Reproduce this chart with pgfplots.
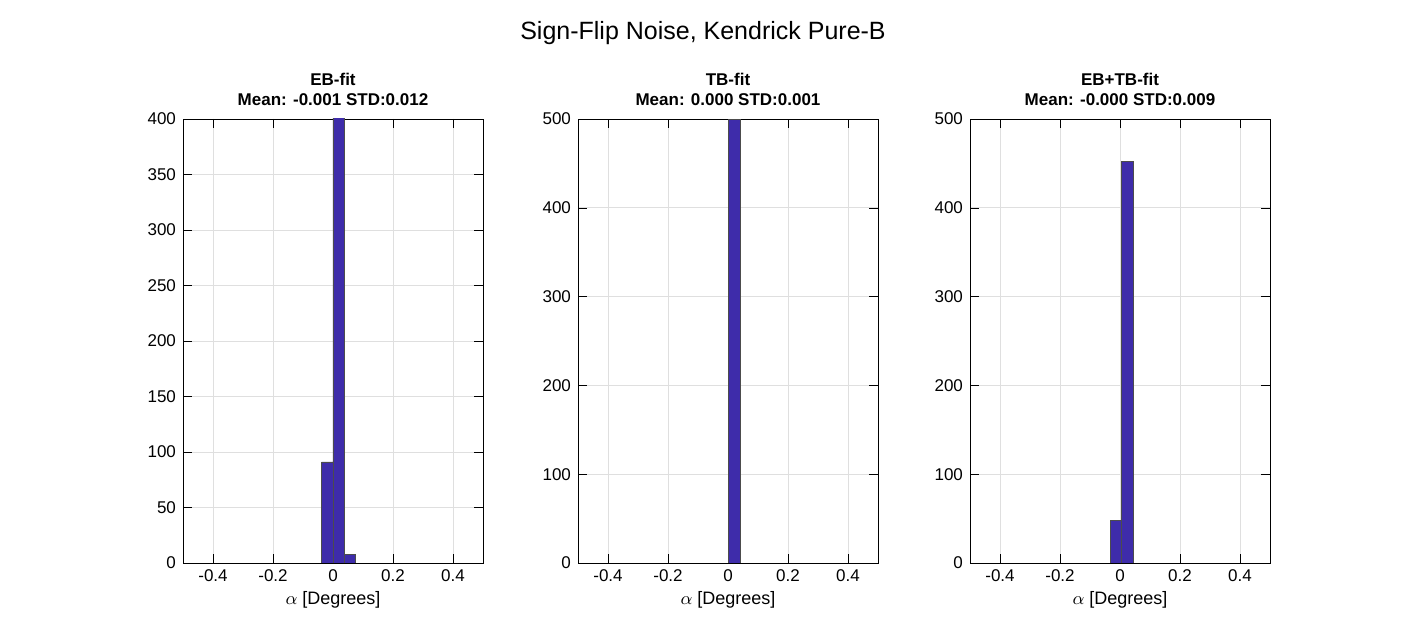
\documentclass[border=0pt]{standalone}
\usepackage{pgfplots}
\pgfplotsset{compat=1.18}
\usepackage{fontspec}
\setmainfont{Liberation Sans}
\definecolor{barc}{RGB}{62,44,170}
\pgfplotsset{
  hist/.style={
    scale only axis, width=150pt, height=222pt,
    xmin=-0.5, xmax=0.5, ymin=0,
    xtick={-0.4,-0.2,0,0.2,0.4},
    xticklabels={-0.4,-0.2,0,0.2,0.4},
    grid=major, major grid style={gray!25},
    tick align=inside, tick style={black}, axis line style={black},
    tick label style={font=\fontsize{8.5}{9}\selectfont},
    /pgf/number format/assume math mode=true,
    xlabel={$\alpha$ [Degrees]}, xlabel style={font=\fontsize{9}{10}\selectfont, yshift=2pt},
    title style={font=\bfseries\fontsize{8.5}{10}\selectfont, align=center, yshift=-3pt},
    anchor=south west,
  },
  hbar/.style={ybar interval, fill=barc, draw=black!70, line width=0.4pt}
}
\begin{document}
\begin{tikzpicture}
\path (0pt,0pt) rectangle (703pt,312.5pt);
\node[font=\fontsize{12.5}{14}\selectfont] at (351.5pt,296pt) {Sign-Flip Noise, Kendrick Pure-B};
\begin{axis}[hist, at={(91.5pt,31pt)}, ymax=400, ytick={0,50,...,400},
  title={EB-fit\\Mean: -0.001 STD:0.012}]
\addplot[hbar] coordinates {(-0.038,91) (0,401) (0.038,8) (0.076,8)};
\end{axis}
\begin{axis}[hist, at={(289pt,31pt)}, ymax=500, ytick={0,100,...,500},
  title={TB-fit\\Mean: 0.000 STD:0.001}]
\addplot[hbar] coordinates {(0,500) (0.04,500)};
\end{axis}
\begin{axis}[hist, at={(485pt,31pt)}, ymax=500, ytick={0,100,...,500},
  title={EB+TB-fit\\Mean: -0.000 STD:0.009}]
\addplot[hbar] coordinates {(-0.032,48) (0.006,452) (0.044,452)};
\end{axis}
\end{tikzpicture}
\end{document}
